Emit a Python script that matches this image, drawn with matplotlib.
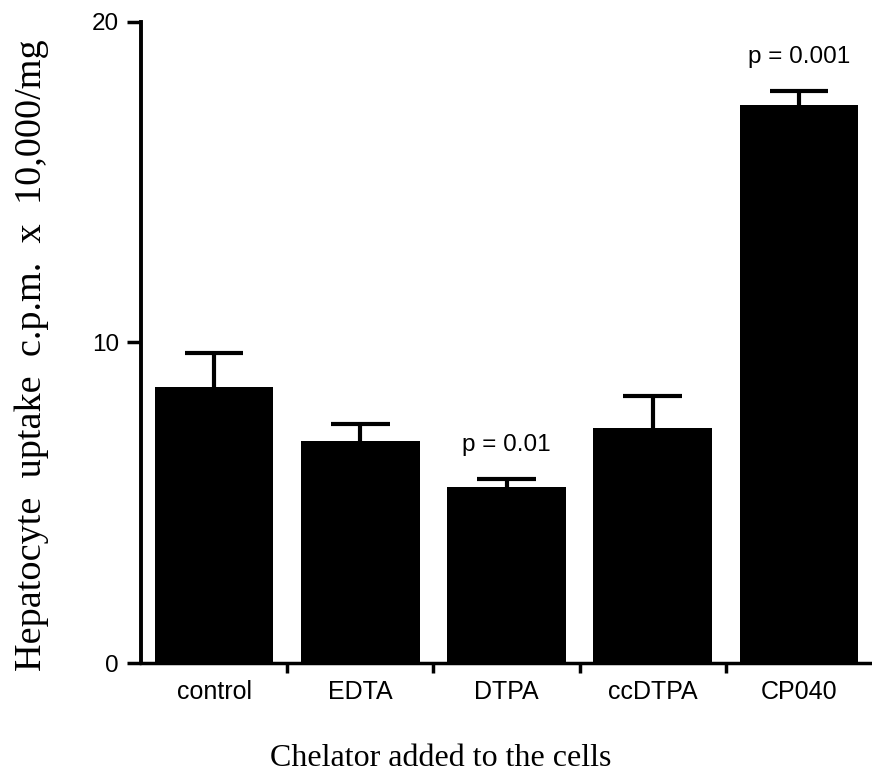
import numpy as np
import matplotlib
matplotlib.use('Agg')
from matplotlib import pyplot as plt

# data
chelators = ['control', 'EDTA', 'DTPA', 'ccDTPA', 'CP040']
uptake = [8.61, 6.93, 5.49, 7.33, 17.41]
sem = [1.06, 0.53, 0.25, 1.0, 0.44]
pvals = ['', '', 'p = 0.01', '', 'p = 0.001']

fig = plt.figure(figsize=(8.72, 7.74), dpi=100)
ax = fig.add_axes([0.1617, 0.1434, 0.8383, 0.8282])

x = np.arange(len(chelators))
top = np.array(uptake) + np.array(sem)
ax.bar(x, uptake, width=0.81, color='black', zorder=2)
# upper error bars only
ax.vlines(x, uptake, top, color='black', lw=3, zorder=1)
ax.hlines(top, x - 0.2, x + 0.2, color='black', lw=3, zorder=1)

for i in range(len(chelators)):
    if pvals[i]:
        ax.text(x[i], top[i] + 0.72, pvals[i], ha='center', va='bottom',
                fontsize=17.5, family='Liberation Sans')

ax.set_xlim(-0.5, 4.5)
ax.set_ylim(0, 20)
ax.set_yticks([0, 10, 20])
ax.set_yticklabels(['0', '10', '20'], fontsize=17.5, family='Liberation Sans')
ax.set_xticks(x)
ax.set_xticklabels(chelators, fontsize=18, family='Liberation Sans')
ax.tick_params(axis='x', length=0, pad=12)
ax.set_xticks(np.arange(0.5, 4.5, 1), minor=True)
ax.tick_params(axis='x', which='minor', length=7, width=2.5, direction='out')
ax.tick_params(axis='y', length=10, width=2.5, direction='out', pad=6)

for s in ['top', 'right']:
    ax.spines[s].set_visible(False)
ax.spines['left'].set_linewidth(2.8)
ax.spines['bottom'].set_linewidth(2.5)

ax.set_xlabel('Chelator added to the cells', fontsize=23, family='Liberation Serif')
ax.xaxis.set_label_coords(0.41, -0.126)
ax.set_ylabel('Hepatocyte  uptake  c.p.m.  x  10,000/mg', fontsize=27.5,
              family='Liberation Serif')
ax.yaxis.set_label_coords(-0.126, 0.48)

plt.savefig('out.png', dpi=100)
